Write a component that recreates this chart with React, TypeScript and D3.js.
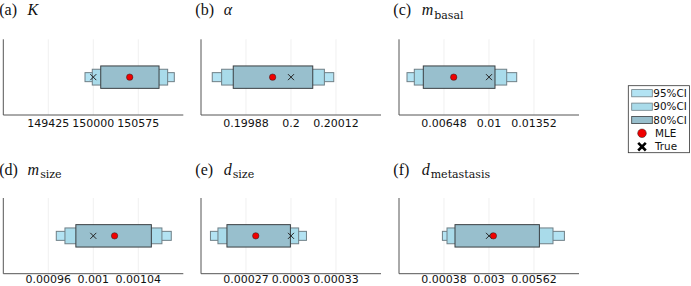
import React from "react";
import * as d3 from "d3";

const panelLetters = ["a", "b", "c", "d", "e", "f"];
const paramNames = ["K", "α", "m", "m", "d", "d"];
const paramSubs = ["", "", "basal", "size", "size", "metastasis"];
const tickLabels: number[][] = [
  [149425, 150000, 150575],
  [0.19988, 0.2, 0.20012],
  [0.00648, 0.01, 0.01352],
  [0.00096, 0.001, 0.00104],
  [0.00027, 0.0003, 0.00033],
  [0.00038, 0.003, 0.00562],
];
const trueVals = [150000, 0.2, 0.01, 0.001, 0.0003, 0.003];
const mleVals = [150465, 0.199951, 0.007239, 0.0010189, 0.0002765, 0.003256];
const ci80Lo = [150095, 0.199846, 0.004861, 0.0009845, 0.0002573, 0.00102];
const ci80Hi = [150840, 0.200058, 0.010469, 0.0010516, 0.0002996, 0.005934];
const ci90Lo = [149987, 0.199815, 0.004157, 0.0009748, 0.0002513, 0.000555];
const ci90Hi = [150950, 0.200089, 0.011384, 0.001061, 0.0003051, 0.006726];
const ci95Lo = [149894, 0.19979, 0.003586, 0.0009671, 0.0002463, 0.000287];
const ci95Hi = [151035, 0.200114, 0.012167, 0.0010693, 0.0003103, 0.00739];
const legendLabels = ["95%CI", "90%CI", "80%CI", "MLE", "True"];

const W = 691;
const H = 286;
const colLefts = [3.3, 201, 399];
const rowTops = [39.3, 198];
const PW = 180;
const PH = 75.7;

const C95 = "#b3e3f3";
const C90 = "#a9dbea";
const C80 = "#98bfcd";
const S95 = "#6f7f86";
const S80 = "#3a3f42";

const serif = "'Liberation Serif', 'Times New Roman', serif";
const subSerif = "'DejaVu Serif', serif";
const sans = "'DejaVu Sans', sans-serif";

function Panel({ i }: { i: number }) {
  const col = i % 3;
  const row = Math.floor(i / 3);
  const left = colLefts[col];
  const top = rowTops[row];
  const bottom = top + PH;
  const t = tickLabels[i];
  const x = d3
    .scaleLinear()
    .domain([t[0] - (t[1] - t[0]), t[2] + (t[2] - t[1])])
    .range([left, left + PW]);
  const y = d3.scaleLinear().domain([0, 1]).range([bottom, top]);
  const yc = y(0.5);
  const boxes = [
    { lo: ci95Lo[i], hi: ci95Hi[i], h: 4.5, fill: C95, stroke: S95 },
    { lo: ci90Lo[i], hi: ci90Hi[i], h: 7.9, fill: C90, stroke: S95 },
    { lo: ci80Lo[i], hi: ci80Hi[i], h: 11.2, fill: C80, stroke: S80 },
  ];
  const tx = x(trueVals[i]);
  const titleX = Math.max(left - 5.7, -0.8);
  const titleY = row === 0 ? 15 : 174.5;
  const labelY = row === 0 ? bottom + 12.3 : Math.min(bottom + 12.3, 283.2);
  return (
    <g>
      {t.map((v, k) => (
        <line key={"g" + k} x1={x(v)} x2={x(v)} y1={top} y2={bottom} stroke="#e6e6e6" strokeWidth={0.6} />
      ))}
      <line x1={left} x2={left} y1={top} y2={bottom} stroke="#555" strokeWidth={1} />
      <line x1={left} x2={left + PW} y1={bottom} y2={bottom} stroke="#555" strokeWidth={1} />
      {t.map((v, k) => (
        <text key={"t" + k} x={x(v)} y={labelY} textAnchor="middle" fontFamily={sans} fontSize={11} fill="#111">
          {String(v)}
        </text>
      ))}
      {boxes.map((b, k) => (
        <rect
          key={"b" + k}
          x={x(b.lo)}
          y={yc - b.h}
          width={x(b.hi) - x(b.lo)}
          height={2 * b.h}
          fill={b.fill}
          stroke={b.stroke}
          strokeWidth={1}
        />
      ))}
      <path
        d={`M${tx - 3},${yc - 3}L${tx + 3},${yc + 3}M${tx - 3},${yc + 3}L${tx + 3},${yc - 3}`}
        stroke="#222"
        strokeWidth={1}
        fill="none"
      />
      <circle cx={x(mleVals[i])} cy={yc} r={3.2} fill="#f00000" stroke="#222" strokeWidth={0.5} />
      <text x={titleX} y={titleY} fontFamily={serif} fontSize={16} fill="#111">
        ({panelLetters[i]})
      </text>
      <text x={titleX + 28.4} y={titleY} fontFamily={serif} fontSize={16} fill="#111">
        <tspan fontStyle="italic">{paramNames[i]}</tspan>
        {paramSubs[i] ? (
          <tspan fontFamily={subSerif} fontSize={11} dx={1} dy={3.5}>
            {paramSubs[i]}
          </tspan>
        ) : null}
      </text>
    </g>
  );
}

function Legend() {
  const ys = [93.2, 106.7, 120, 133.3, 146.7];
  const fills = [C95, C90, C80];
  const strokes = [S95, S95, S80];
  const mx = 642;
  return (
    <g>
      <rect x={628.3} y={85.7} width={61.2} height={67} fill="#fff" stroke="#333" strokeWidth={0.8} />
      {legendLabels.map((lab, k) => (
        <g key={k}>
          {k < 3 ? (
            <rect x={631.7} y={ys[k] - 3.6} width={20.6} height={7.2} fill={fills[k]} stroke={strokes[k]} strokeWidth={0.8} />
          ) : k === 3 ? (
            <circle cx={mx} cy={ys[k]} r={4.3} fill="#f00000" stroke="#222" strokeWidth={0.5} />
          ) : (
            <path
              d={`M${mx - 3.8},${ys[k] - 3.8}L${mx + 3.8},${ys[k] + 3.8}M${mx - 3.8},${ys[k] + 3.8}L${mx + 3.8},${ys[k] - 3.8}`}
              stroke="#000"
              strokeWidth={2.6}
            />
          )}
          <text x={k < 3 ? 653.3 : 655} y={ys[k]} dy="0.35em" fontFamily={sans} fontSize={10.4} fill="#111">
            {lab}
          </text>
        </g>
      ))}
    </g>
  );
}

export default function App() {
  return (
    <svg width={W} height={H} style={{ position: "absolute", left: 0, top: 0, background: "#fff" }}>
      <rect x={0} y={0} width={W} height={H} fill="#fff" />
      {panelLetters.map((_, i) => (
        <Panel key={i} i={i} />
      ))}
      <Legend />
    </svg>
  );
}
